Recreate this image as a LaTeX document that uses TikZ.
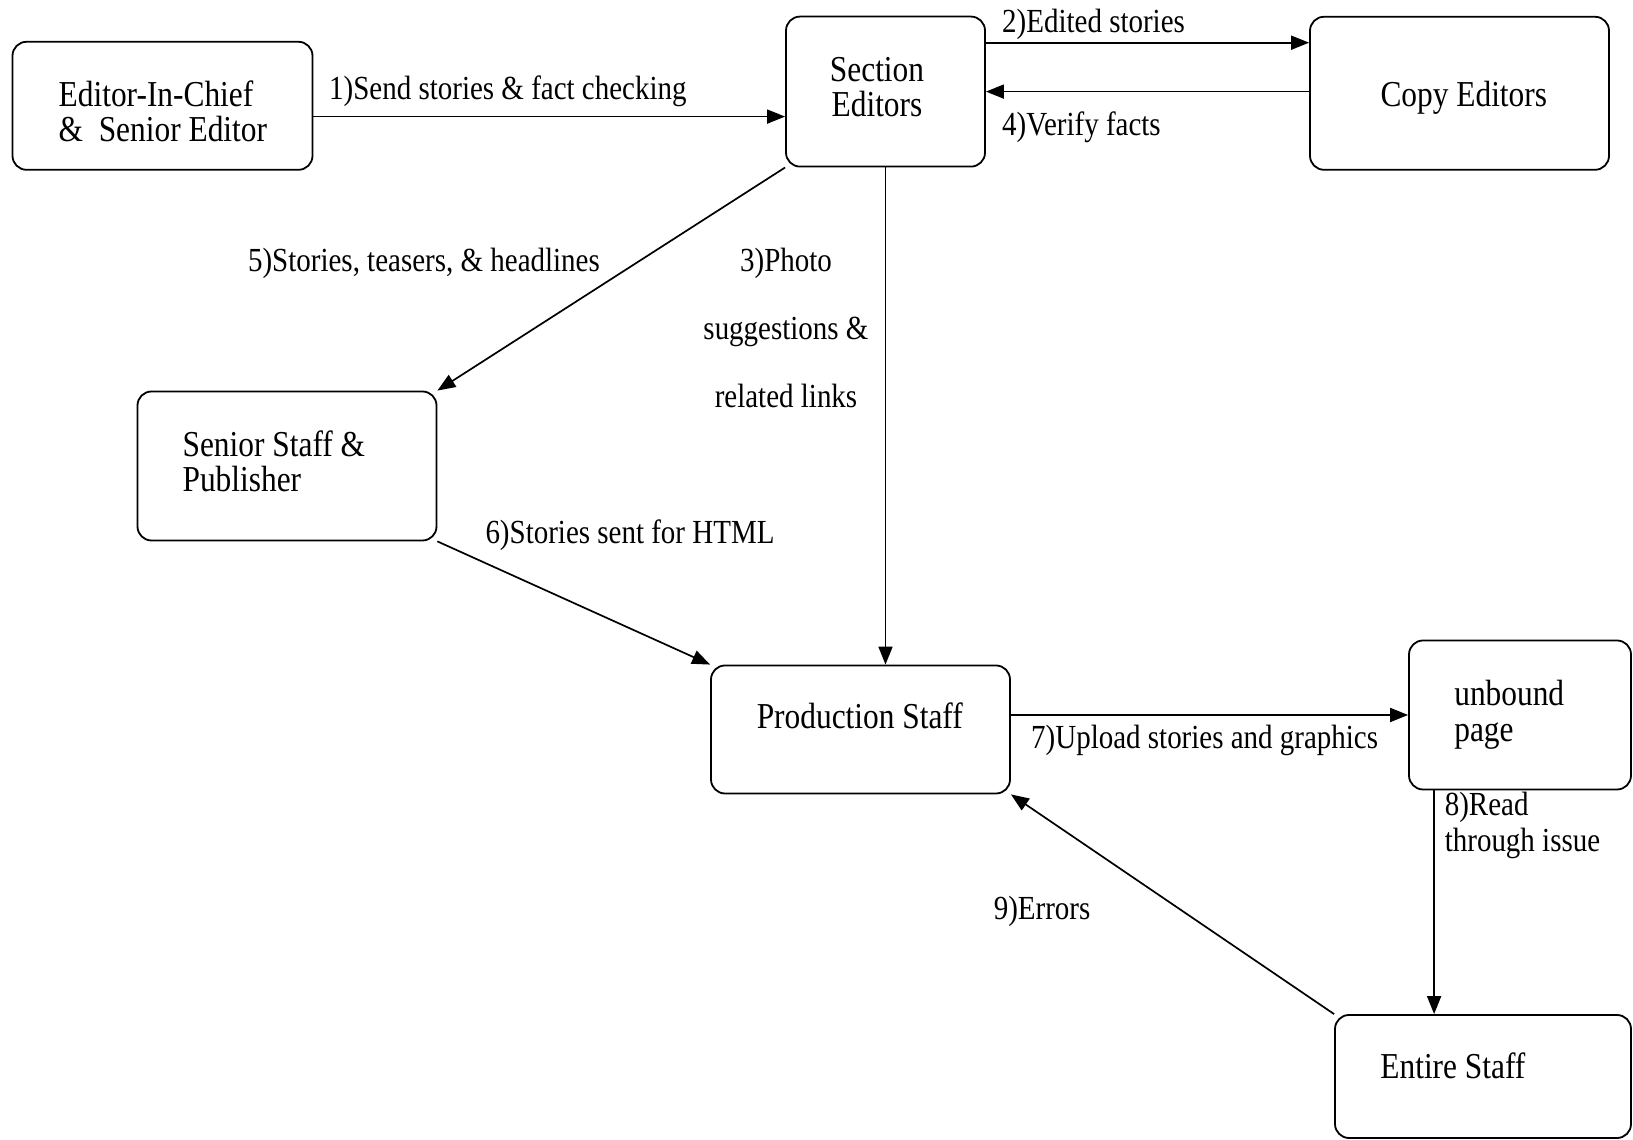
\documentclass[tikz,border=0pt]{standalone}
\usepackage{fontspec}
\setmainfont[FakeStretch=0.86]{Liberation Serif}
\usetikzlibrary{positioning, arrows.meta}

\begin{document}
\begin{tikzpicture}[x=1pt, y=1pt]
	% Define styles
	\tikzset{
		box/.style={rectangle, draw, rounded corners=14pt, line width=1.8pt, inner sep=0pt},
		boxtext/.style={inner sep=0pt, font=\fontsize{36.5}{35.5}\selectfont},
		lbl/.style={inner sep=0pt, font=\fontsize{33.7}{35.4}\selectfont},
		line/.style={draw, line width=1.7pt, -{Triangle[length=18pt, width=14pt]}}
	}
	\useasboundingbox (0,0) rectangle (1633,1140);
	
	% Boxes
	\node[box, minimum width=300pt, minimum height=128pt] (eic) at (162.5,1034.2) {};
	\node[box, minimum width=199pt, minimum height=150pt] (sec) at (885.5,1048.4) {};
	\node[box, minimum width=299pt, minimum height=153pt] (copy) at (1459.5,1046.7) {};
	\node[box, minimum width=299pt, minimum height=149pt] (senior) at (287,674) {};
	\node[box, minimum width=299pt, minimum height=128pt] (prod) at (860.5,410.5) {};
	\node[box, minimum width=222pt, minimum height=149pt] (unb) at (1520,425) {};
	\node[box, minimum width=296pt, minimum height=123pt] (ent) at (1483,63.5) {};
	
	% Box texts
	\node[boxtext, anchor=west, align=left] (eic-t) at ([xshift=46.9pt, yshift=-5.6pt]eic.west) {Editor-In-Chief\\\&\ \ Senior Editor};
	\node[boxtext, align=center] (sec-t) at ([xshift=-8.5pt, yshift=4.6pt]sec.center) {Section\\Editors};
	\node[boxtext, anchor=base] (copy-t) at ([xshift=4.3pt, yshift=-12.9pt]copy.center) {Copy Editors};
	\node[boxtext, anchor=west, align=left] (senior-t) at ([xshift=45.8pt, yshift=4.9pt]senior.west) {Senior Staff \&\\Publisher};
	\node[boxtext, anchor=base] (prod-t) at ([xshift=-0.7pt, yshift=0.5pt]prod.center) {Production Staff};
	\node[boxtext, anchor=west, align=left] (unb-t) at ([xshift=46pt, yshift=0.4pt]unb.west) {unbound\\page};
	\node[boxtext, anchor=base] (ent-t) at ([xshift=-30.1pt, yshift=-2.5pt]ent.center) {Entire Staff};
	
	% Arrows
	\draw[line] ([yshift=-10.8pt]eic.east) -- ([yshift=-10.8pt]eic.east -| sec.west);
	\draw[line] ([yshift=48.9pt]sec.east) -- ([yshift=48.9pt]sec.east -| copy.west);
	\draw[line] (sec.south) -- (sec.south |- prod.north);
	\draw[line] (copy.west |- sec.east) -- (sec.east);
	\draw[line] (sec.south west) -- (senior.north east);
	\draw[line] (senior.south east) -- (prod.north west);
	\draw[line] (prod.east |- unb.west) -- (unb.west);
	\draw[line] ([xshift=26pt]unb.south west) -- ([xshift=26pt]unb.south west |- ent.north);
	\draw[line] (ent.north west) -- (prod.south east);
	
	% Arrow labels
	\node[lbl, anchor=base west] (l1) at (329,1040) {1)Send stories \& fact checking};
	\node[lbl, anchor=base west] (l2) at (1002,1107.7) {2)Edited stories};
	\node[lbl, align=center, font=\fontsize{33.7}{68}\selectfont] (l3) at (786,812.5) {3)Photo\\suggestions \&\\related links};
	\node[lbl, anchor=base west] (l4) at (1002,1004.6) {4)Verify facts};
	\node[lbl, anchor=base west] (l5) at (247.9,868.2) {5)Stories, teasers, \& headlines};
	\node[lbl, anchor=base west] (l6) at (485.3,596.3) {6)Stories sent for HTML};
	\node[lbl, anchor=base west] (l7) at (1031,391.2) {7)Upload stories and graphics};
	\node[lbl, anchor=west, align=left] (l8) at (1444.6,314.7) {8)Read\\through issue};
	\node[lbl, anchor=base west] (l9) at (993.6,220.3) {9)Errors};
	
\end{tikzpicture}
\end{document}
